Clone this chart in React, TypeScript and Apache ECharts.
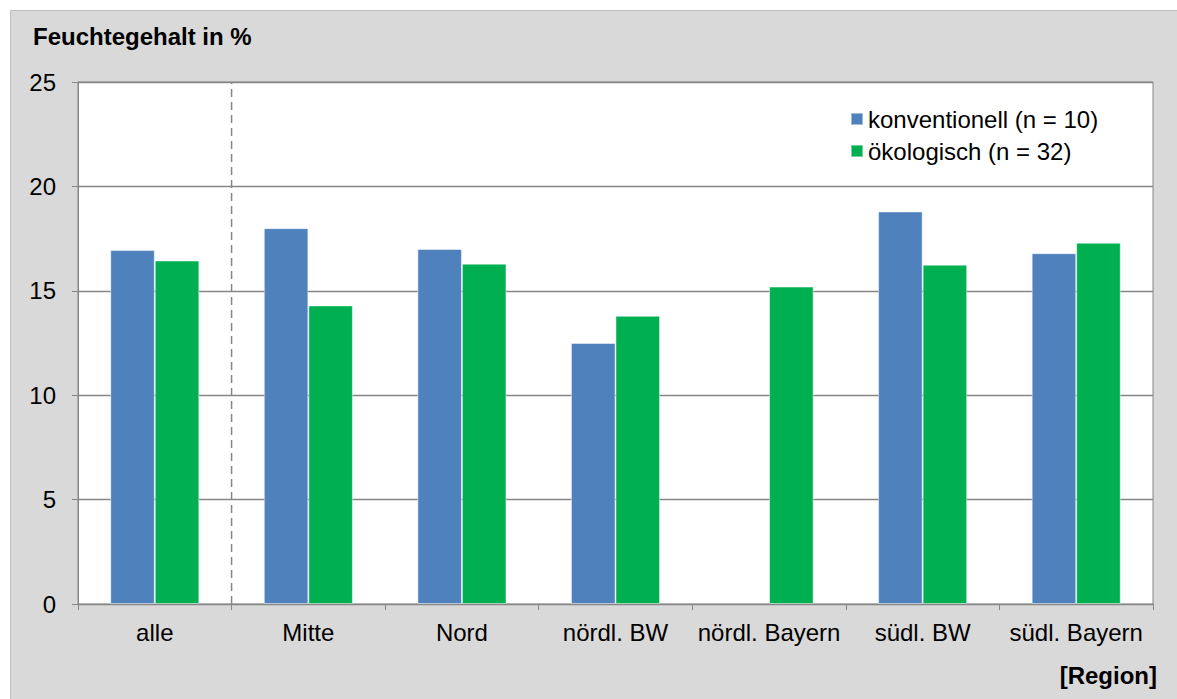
import React, { useEffect, useRef } from "react";
import * as echarts from "echarts";

const regions = ["alle", "Mitte", "Nord", "nördl. BW", "nördl. Bayern", "südl. BW", "südl. Bayern"];
const konventionell: (number | null)[] = [16.95, 18.0, 17.0, 12.5, null, 18.8, 16.8];
const oekologisch: number[] = [16.45, 14.3, 16.3, 13.8, 15.2, 16.25, 17.3];
const yTicks = { min: 0, max: 25, interval: 5 };
const separatorAt = 1; // boundary after "alle"

const FONT = "'Liberation Sans', Arial, sans-serif";
const AXIS_GRAY = "#868686";
const FS = 24;

export default function App() {
  const ref = useRef<HTMLDivElement>(null);

  useEffect(() => {
    if (!ref.current) return;
    const chart = echarts.init(ref.current, null, { renderer: "svg" });
    chart.setOption({
      animation: false,
      backgroundColor: "#ffffff",
      textStyle: { fontFamily: FONT },
      graphic: [
        {
          type: "rect",
          z: -100,
          shape: { x: 10.5, y: 10.5, width: 1200, height: 720 },
          style: { fill: "#d9d9d9", stroke: "#bdbdbd", lineWidth: 1 },
        },
        {
          type: "text",
          left: 33,
          top: 24,
          style: {
            text: "Feuchtegehalt in %",
            font: `bold ${FS}px ${FONT}`,
            fill: "#000",
          },
        },
        {
          type: "text",
          right: 20,
          top: 663,
          style: {
            text: "[Region]",
            font: `bold ${FS}px ${FONT}`,
            fill: "#000",
          },
        },
      ],
      legend: {
        orient: "vertical",
        left: 845,
        top: 102,
        itemWidth: 12,
        itemHeight: 12,
        itemGap: 8,
        icon: "rect",
        data: ["konventionell (n = 10)", "ökologisch (n = 32)"],
        textStyle: { fontSize: FS, color: "#000", fontFamily: FONT },
      },
      grid: {
        left: 78,
        right: 24,
        top: 82,
        bottom: 95,
        show: true,
        backgroundColor: "#ffffff",
        borderColor: AXIS_GRAY,
        borderWidth: 1,
      },
      xAxis: [
        {
          type: "category",
          data: regions,
          axisLine: { lineStyle: { color: AXIS_GRAY, width: 1 } },
          axisTick: { show: true, interval: 0, length: 6, lineStyle: { color: AXIS_GRAY } },
          axisLabel: { interval: 0, fontSize: FS, color: "#000", margin: 16, fontFamily: FONT },
        },
        {
          type: "value",
          min: 0,
          max: regions.length,
          show: false,
        },
      ],
      yAxis: {
        type: "value",
        min: yTicks.min,
        max: yTicks.max,
        interval: yTicks.interval,
        axisLine: { show: true, lineStyle: { color: AXIS_GRAY, width: 1 } },
        axisTick: { show: true, length: 6, lineStyle: { color: AXIS_GRAY } },
        axisLabel: { fontSize: FS, color: "#000", margin: 22, fontFamily: FONT },
        splitLine: { show: true, lineStyle: { color: AXIS_GRAY, width: 1.3 } },
      },
      series: [
        {
          name: "konventionell (n = 10)",
          type: "bar",
          data: konventionell,
          barGap: "0%",
          barCategoryGap: "42%",
          itemStyle: { color: "#4f81bd", borderColor: "rgba(255,255,255,0.45)", borderWidth: 1 },
        },
        {
          name: "ökologisch (n = 32)",
          type: "bar",
          data: oekologisch,
          barGap: "0%",
          barCategoryGap: "42%",
          itemStyle: { color: "#00b050", borderColor: "rgba(255,255,255,0.45)", borderWidth: 1 },
        },
        {
          name: "separator",
          type: "line",
          xAxisIndex: 1,
          data: [
            [separatorAt, yTicks.min],
            [separatorAt, yTicks.max],
          ],
          symbol: "none",
          silent: true,
          z: 5,
          lineStyle: { color: AXIS_GRAY, width: 1.5, type: [8, 5] },
        },
      ],
    });
    return () => chart.dispose();
  }, []);

  return (
    <div
      ref={ref}
      style={{ position: "fixed", left: 0, top: 0, width: 1177, height: 699 }}
    />
  );
}
